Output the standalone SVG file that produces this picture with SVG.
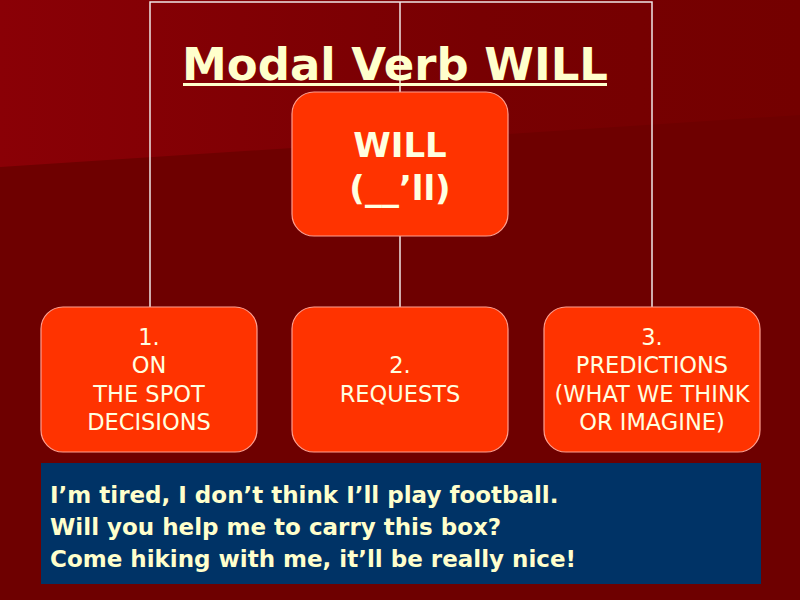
<svg xmlns="http://www.w3.org/2000/svg" width="800" height="600" viewBox="0 0 800 600">
<defs>
<linearGradient id="hl" x1="0" y1="0" x2="1" y2="0">
<stop offset="0" stop-color="#8a0006"/>
<stop offset="0.6" stop-color="#780002"/>
<stop offset="1" stop-color="#740000"/>
</linearGradient>
<style>
.bg{fill:#6e0000}
.node rect{fill:#ff3300;stroke:#ff9f8f;stroke-width:1.2}
.node text{fill:#ffffe0;font-family:"DejaVu Sans",sans-serif;font-size:22.5px;text-anchor:middle}
.node .big{font-size:34px;font-weight:bold}
.conn{stroke:#f0e6e6;stroke-width:1.5;fill:none}
.title{fill:#ffffcc;font-family:"DejaVu Sans",sans-serif;font-weight:bold;font-size:45px;text-anchor:middle}
.ex{fill:#ffffcc;font-family:"DejaVu Sans",sans-serif;font-weight:bold;font-size:23px}
</style>
</defs>
<rect class="bg" width="800" height="600"/>
<polygon points="0,0 800,0 800,115 0,167" fill="url(#hl)"/>
<g id="connectors">
<path class="conn" d="M150,307 V2 H652 V307"/>
<path class="conn" d="M400,2 V307"/>
</g>
<text class="title" x="395" y="80">Modal Verb WILL</text>
<rect x="183" y="83" width="424" height="3" fill="#ffffcc"/>
<g id="will" class="node">
<rect x="292" y="92" width="216" height="144" rx="22"/>
<text class="big" x="400" y="157">WILL</text>
<text class="big" x="400" y="200">(__’ll)</text>
</g>
<g id="n1" class="node">
<rect x="41" y="307" width="216" height="145" rx="22"/>
<text x="149" y="345">1.</text>
<text x="149" y="373">ON</text>
<text x="149" y="402">THE SPOT</text>
<text x="149" y="430">DECISIONS</text>
</g>
<g id="n2" class="node">
<rect x="292" y="307" width="216" height="145" rx="22"/>
<text x="400" y="373">2.</text>
<text x="400" y="402">REQUESTS</text>
</g>
<g id="n3" class="node">
<rect x="544" y="307" width="216" height="145" rx="22"/>
<text x="652" y="345">3.</text>
<text x="652" y="373">PREDICTIONS</text>
<text x="652" y="402">(WHAT WE THINK</text>
<text x="652" y="430">OR IMAGINE)</text>
</g>
<g id="examples">
<rect x="41" y="463" width="720" height="121" fill="#003366"/>
<text class="ex" x="50" y="503">I’m tired, I don’t think I’ll play football.</text>
<text class="ex" x="50" y="535">Will you help me to carry this box?</text>
<text class="ex" x="50" y="567">Come hiking with me, it’ll be really nice!</text>
</g>
</svg>
